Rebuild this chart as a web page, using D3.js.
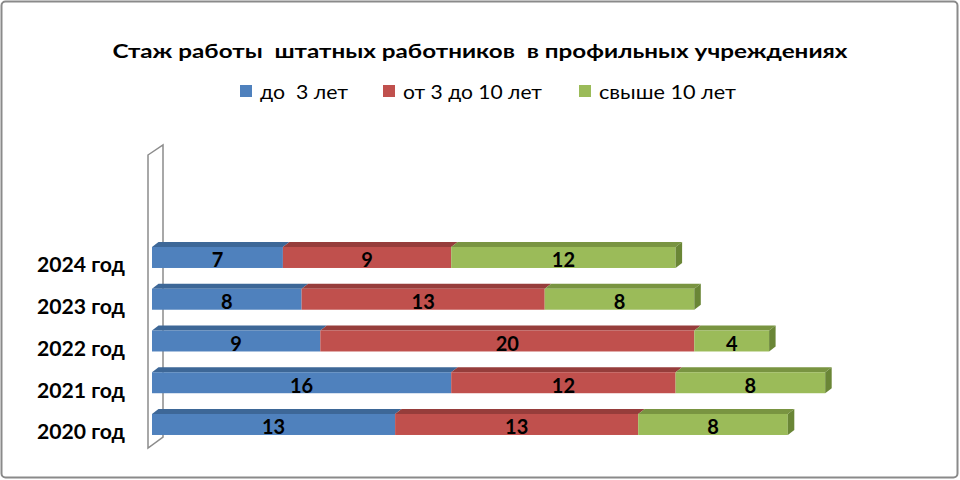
<!DOCTYPE html>
<html><head><meta charset="utf-8">
<script src="https://cdn.jsdelivr.net/npm/d3@7/dist/d3.min.js"></script>
<style>html,body{margin:0;padding:0;background:#fff;}svg{display:block;} text{white-space:pre;}</style>
</head><body>
<script>
const categories = ["2024 год","2023 год","2022 год","2021 год","2020 год"];
const seriesNames = ["до  3 лет","от 3 до 10 лет","свыше 10 лет"];
const under3 = [7, 8, 9, 16, 13];
const from3to10 = [9, 13, 20, 12, 13];
const over10 = [12, 8, 4, 8, 8];
const title = "Стаж работы  штатных работников  в профильных учреждениях";

const front = ["#4F81BD","#C0504D","#9BBB59"];
const topC  = ["#3D6797","#963D3B","#799441"];
const sideC = ["#345a86","#843533","#6A8636"];
const FONT = "Lato, 'Open Sans', sans-serif";

const W = 960, H = 480;
const svg = d3.select("body").append("svg").attr("width", W).attr("height", H);

svg.append("rect").attr("x",1.5).attr("y",1.5).attr("width",956).attr("height",476)
  .attr("rx",4).attr("fill","#fff").attr("stroke","#8a8a8a").attr("stroke-width",2);

svg.append("text").attr("x",480).attr("y",58).attr("text-anchor","middle")
  .attr("font-family",FONT).attr("font-weight","bold").attr("font-size",18.5)
  .attr("textLength",735).attr("lengthAdjust","spacingAndGlyphs")
  .attr("fill","#000").text(title);

// legend
const legX = [240, 383, 579];
const legW = [88, 139, 137];
seriesNames.forEach((n,i)=>{
  svg.append("rect").attr("x",legX[i]).attr("y",85).attr("width",12).attr("height",12).attr("fill",front[i]);
  svg.append("text").attr("x",legX[i]+20).attr("y",99).attr("font-family",FONT).attr("font-size",19)
    .attr("textLength",legW[i]).attr("lengthAdjust","spacingAndGlyphs").text(n);
});

// scales
const x = d3.scaleLinear().domain([0,40]).range([152, 152 + 40*18.7]);
const y = d3.scaleBand().domain(categories).range([236.6, 445.35]).paddingInner(0.497).paddingOuter(0.2485);
const dx = 6.5, dy = -5;

// wall
svg.append("path").attr("d","M148,155 L163,145 L163,437 L148,448 Z")
  .attr("fill","#fff").attr("stroke","#8c8c8c").attr("stroke-width",1.5);

const stackData = categories.map((c,i)=>({cat:c, under3:under3[i], mid:from3to10[i], over:over10[i]}));
const stack = d3.stack().keys(["under3","mid","over"])(stackData);

categories.forEach((c,ci)=>{
  const y0 = y(c), bh = y.bandwidth();
  stack.forEach((s,si)=>{
    const d = s[ci];
    const xa = x(d[0]), xb = x(d[1]);
    svg.append("path").attr("d",`M${xa},${y0} L${xa+dx},${y0+dy} L${xb+dx},${y0+dy} L${xb},${y0} Z`).attr("fill",topC[si]);
  });
  stack.forEach((s,si)=>{
    const d = s[ci];
    const xa = x(d[0]), xb = x(d[1]);
    svg.append("rect").attr("x",xa).attr("y",y0).attr("width",xb-xa).attr("height",bh).attr("fill",front[si]);
    if (si === stack.length-1) {
      svg.append("path").attr("d",`M${xb},${y0} L${xb+dx},${y0+dy} L${xb+dx},${y0+dy+bh} L${xb},${y0+bh} Z`).attr("fill",sideC[si]);
    }
    svg.append("text").attr("x",(xa+xb)/2).attr("y",y0+bh/2+2).attr("text-anchor","middle")
      .attr("dominant-baseline","central").attr("font-family",FONT).attr("font-weight","bold")
      .attr("font-size",20).attr("fill","#000").text(d[1]-d[0]);
  });
  svg.append("text").attr("x",125).attr("y",y0+bh/2+7).attr("text-anchor","end")
    .attr("dominant-baseline","central").attr("font-family",FONT).attr("font-weight","bold")
    .attr("font-size",21.5).attr("textLength",88).attr("lengthAdjust","spacingAndGlyphs")
    .attr("fill","#000").text(c);
});
</script>
</body></html>
